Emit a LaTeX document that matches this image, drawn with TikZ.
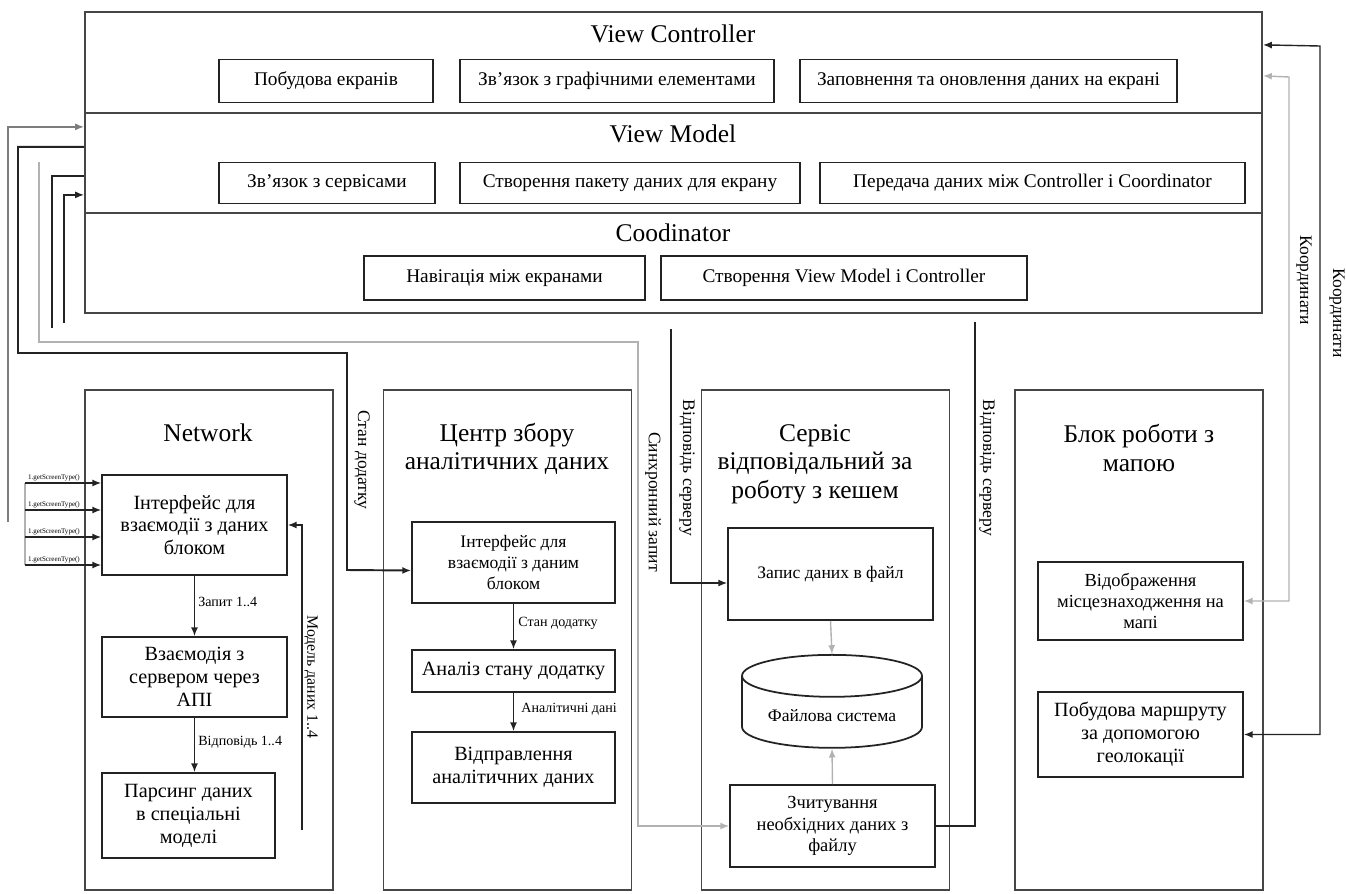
\documentclass[tikz,border=0pt]{standalone}
\usepackage{fontspec}
\setmainfont{Liberation Serif}
\usepackage{tikz}
\usetikzlibrary{arrows.meta,calc,shapes.geometric}
\definecolor{Frame}{RGB}{70, 70, 70}
\definecolor{Edge}{RGB}{35, 35, 35}
\definecolor{Pale}{RGB}{178, 178, 178}
\definecolor{Mid}{RGB}{125, 125, 125}

\begin{document}
\begin{tikzpicture}[x=0.02cm, y=-0.02cm,
    layer/.style={draw=Frame, line width=1.3pt, minimum width=23.54cm, inner sep=0pt},
    col/.style={draw=Frame, line width=1.1pt, minimum width=4.96cm, minimum height=10cm, inner sep=0pt},
    box/.style={draw=Edge, line width=1pt, align=center, inner sep=1pt, font=\fontsize{11}{12.5}\selectfont},
    big/.style={box, font=\fontsize{11.5}{13}\selectfont},
    head/.style={align=center, inner sep=0pt, font=\fontsize{14.5}{16.2}\selectfont},
    side/.style={rotate=-90, inner sep=0pt, font=\fontsize{10}{11}\selectfont},
    note/.style={inner sep=0pt, anchor=west, font=\fontsize{8}{9}\selectfont},
    wire/.style={Edge, line width=0.8pt},
    arr/.style={wire, -{Latex[length=5pt,width=4pt]}},
    dbl/.style={wire, {Latex[length=5pt,width=4pt]}-{Latex[length=5pt,width=4pt]}}]
    %%Background
    \useasboundingbox (0,0) rectangle (1346,893);

    %% Top frame
    \node[layer, minimum height=2.02cm] (vc) at (673.5,62.5) {};
    \node[layer, minimum height=2cm] (vm) at (673.5,163) {};
    \node[layer, minimum height=2cm] (co) at (673.5,263) {};

    %View Controller
    \node[head] (vct) at (673,34) {View Controller};
    \node[box, minimum width=4.28cm, minimum height=0.86cm] (screens) at (326,81) {Побудова екранів};
    \node[box, minimum width=6.28cm, minimum height=0.86cm] (ui) at (617,81) {Зв’язок з графічними елементами};
    \node[box, minimum width=7.54cm, minimum height=0.86cm] (refresh) at (988.5,81) {Заповнення та оновлення даних на екрані};

    %View Model
    \node[head] (vmt) at (673,134) {View Model};
    \node[box, minimum width=4.32cm, minimum height=0.82cm] (servlink) at (327,183) {Зв’язок з сервісами};
    \node[box, minimum width=6.8cm, minimum height=0.82cm] (pack) at (630,183) {Створення пакету даних для екрану};
    \node[box, minimum width=8.5cm, minimum height=0.82cm] (pass) at (1032.5,183) {Передача даних між Controller і Coordinator};

    %Coodinator
    \node[head] (cot) at (673,233) {Coodinator};
    \node[box, minimum width=5.62cm, minimum height=0.88cm] (nav) at (504.5,278) {Навігація між екранами};
    \node[box, minimum width=7.32cm, minimum height=0.88cm] (create) at (844,278) {Створення View Model і Controller};

    %% Columns
    \node[col] (net) at (209,640) {};
    \node[col] (anl) at (507.5,640) {};
    \node[col] (cache) at (825.5,640) {};
    \node[col] (map) at (1139,640) {};

    \node[head] (nett) at (208,433) {Network};
    \node[head] (anlt) at (507,449) {Центр збору\\аналітичних даних};
    \node[head] (cacht) at (815,464) {Сервіс\\відповідальний за\\роботу з кешем};
    \node[head] (mapt) at (1139,448) {Блок роботи з\\мапою};

    %% Network
    \node[big, minimum width=3.7cm, minimum height=2cm] (nif) at (194.5,525) {Інтерфейс для\\взаємодії з даних\\блоком};
    \node[big, minimum width=3.7cm, minimum height=1.6cm] (napi) at (194.5,677) {Взаємодія з\\сервером через\\АПІ};
    \node[big, minimum width=3.46cm, minimum height=1.7cm] (npars) at (188.5,815.5) {Парсинг даних\\в спеціальні\\моделі};

    \draw[arr] (nif) -- (napi);
    \draw[arr] (napi.south) -- (napi.south |- npars.north);
    \node[note] (req) at (198,602) {Запит 1..4};
    \node[note] (resp) at (198,742) {Відповідь 1..4};

    \coordinate (m0) at (302,830);
    \draw[arr] (m0) |- (nif.east);
    \node[side, font=\fontsize{9}{10}\selectfont] (modl) at (311,677) {Модель даних 1..4};

    %inputs
    \draw[wire, Pale] (25,483) -- (25,565);
    \foreach \y [count=\i] in {483,510,537,565}{
        \coordinate (in\i) at (25,\y);
        \draw[arr] (in\i) -- (nif.west |- in\i);
        \node[inner sep=0pt, font=\fontsize{4}{5}\selectfont] (inl\i) at (54,{\y-5}) {1.getScreenType()};
    }

    %% Analytics
    \node[box, font=\fontsize{10}{11.7}\selectfont, minimum width=4.06cm, minimum height=1.62cm] (aif) at (513.5,562.5) {Інтерфейс для\\взаємодії з даним\\блоком};
    \node[big, minimum width=4.06cm, minimum height=0.84cm] (aan) at (513.5,671) {Аналіз стану додатку};
    \node[big, minimum width=4.06cm, minimum height=1.42cm] (asend) at (513.5,767.5) {Відправлення\\аналітичних даних};
    \draw[arr] (aif) -- (aan);
    \draw[arr] (aan) -- (asend);
    \node[note] (st) at (518,623) {Стан додатку};
    \node[note] (ad) at (521,709) {Аналітичні дані};

    %% Cache
    \node[box, font=\fontsize{10}{11.7}\selectfont, minimum width=4.1cm, minimum height=1.84cm] (cwr) at (830.5,574) {Запис даних в файл};
    \node[cylinder, shape border rotate=90, aspect=0.3, draw=Edge, line width=1pt, font=\fontsize{10}{11.7}\selectfont, minimum width=3.6cm, minimum height=1.86cm] (cfs) at (832,716) {Файлова система};
    \node[box, font=\fontsize{10.5}{12.2}\selectfont, minimum width=4.1cm, minimum height=1.64cm] (crd) at (832.5,826) {Зчитування\\необхідних даних з\\файлу};
    \draw[arr, Pale] (cwr.south) -- (cfs.north);
    \draw[arr, Pale] (crd.north) -- (cfs.south);

    %% Map
    \node[box, font=\fontsize{10.5}{12}\selectfont, minimum width=4.1cm, minimum height=1.56cm] (mshow) at (1140.5,601) {Відображення\\місцезнаходження на\\мапі};
    \node[big, minimum width=4.1cm, minimum height=1.7cm] (mroute) at (1140.5,734.5) {Побудова маршруту\\за допомогою\\геолокації};

    %% Left links
    \coordinate (a0) at (8,522);
    \coordinate (c0) at (39,162);
    \coordinate (d0) at (52,328);
    \coordinate (e0) at (64,323);
    \draw[arr, Mid] (a0) |- ($(vm.north west)+(0,15)$);
    \draw[arr, line width=1.1pt] ($(vm.north west)+(0,35)$) -| (18,353) -| (347,570) -- ($(aif.west)+(0,8)$);
    \draw[arr, Pale] (c0) |- (638,342) |- (crd.west);
    \draw[wire, line width=1.1pt] ($(vm.north west)+(0,64)$) -| (d0);
    \draw[arr] (e0) |- ($(vm.north west)+(0,83)$);
    \node[side] (stan) at (362,460) {Стан додатку};
    \node[side] (sync) at (653,502) {Синхронний запит};

    %% Server answers
    \coordinate (s0) at (671,329);
    \coordinate (r0) at (975,322);
    \draw[arr] (s0) |- ($(cwr.west)+(0,9)$);
    \draw[wire] (crd.east) -| (r0);
    \node[side] (ans1) at (687,468) {Відповідь серверу};
    \node[side] (ans2) at (987,468) {Відповідь серверу};

    %% Coordinates
    \draw[dbl, Pale] (mshow.east) -| (1289,77) -- ($(vc.north east)+(0,65)$);
    \draw[dbl] (mroute.east) -| (1320,46) -- ($(vc.north east)+(0,34)$);
    \node[side] (crd1) at (1304,280) {Координати};
    \node[side] (crd2) at (1337,313) {Координати};

\end{tikzpicture}
\end{document}
